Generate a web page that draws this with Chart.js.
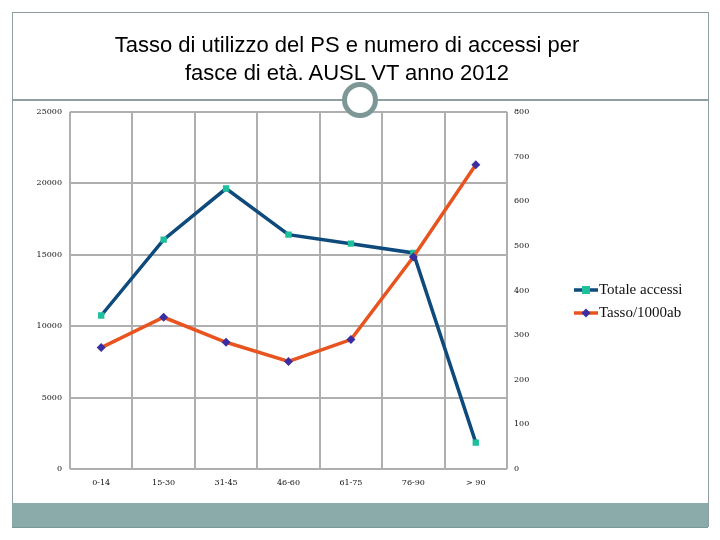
<!DOCTYPE html>
<html>
<head>
<meta charset="utf-8">
<script src="https://cdn.jsdelivr.net/npm/chart.js@4/dist/chart.umd.min.js"></script>
<style>
  body { margin: 0; background: #fff; }
  #slide { position: relative; width: 720px; height: 540px; overflow: hidden; }
  #chart { position: absolute; left: 0; top: 0; }
  .frame { position: absolute; left: 12px; top: 12px; width: 695px; height: 514px; border: 1px solid #8f9f9f; border-bottom: none; }
  .rule { position: absolute; left: 12px; top: 99px; width: 696px; height: 2px; background: #8f9f9f; }
  .ring { position: absolute; left: 342px; top: 82px; width: 26px; height: 26px; border: 5px solid #7d9797; border-radius: 50%; background: #fff; }
  .bar { position: absolute; left: 12px; top: 503px; width: 696px; height: 24px; background: #8aabaa; border-bottom: 1px solid #7a9696; }
  .title { position: absolute; left: 0; top: 31px; width: 694px; text-align: center; font: 22px "Liberation Sans", Arial, sans-serif; line-height: 28px; color: #000; }
  .legend { position: absolute; left: 574px; top: 279px; font: 15px "Liberation Serif", serif; color: #111; }
  .legend div { height: 23px; line-height: 20px; white-space: nowrap; }
  .legend canvas { vertical-align: middle; margin-right: 1px; position: relative; top: -1px; }
</style>
</head>
<body>
<div id="slide">
  <canvas id="chart" width="720" height="540"></canvas>
  <div class="frame"></div>
  <div class="title">Tasso di utilizzo del PS e numero di accessi per<br>fasce di età. AUSL VT anno 2012</div>
  <div class="rule"></div>
  <div class="ring"></div>
  <div class="legend" id="legend"></div>
  <div class="bar"></div>
</div>
<script>
var fasce = ['0-14', '15-30', '31-45', '46-60', '61-75', '76-90', '> 90'];
var totaleAccessi = [10750, 16060, 19640, 16410, 15780, 15130, 1850];
var tasso = [272, 340, 284, 241, 290, 475, 682];
var accessiTicks = { min: 0, max: 25000, step: 5000 };
var tassoTicks = { min: 0, max: 800, step: 100 };

var tickFont = { family: 'DejaVu Serif', size: 8 };

var series = [
  { label: 'Totale accessi', data: totaleAccessi, axis: 'yAcc', line: '#0e4a7b', mark: '#1ebf9b', style: 'rect', order: 2 },
  { label: 'Tasso/1000ab', data: tasso, axis: 'yTasso', line: '#e8541f', mark: '#3a2ea2', style: 'rectRot', order: 1 }
];

function fixWidth(w) {
  return function(scale) { scale.width = w; };
}

// plain numbers, no thousand separators
function plain(value) {
  return String(value);
}

var ctx = document.getElementById('chart').getContext('2d');
var chart = new Chart(ctx, {
  type: 'line',
  data: {
    labels: fasce,
    datasets: series.map(function(s) {
      return {
        label: s.label,
        data: s.data,
        yAxisID: s.axis,
        order: s.order,
        borderColor: s.line,
        borderWidth: 3.5,
        tension: 0,
        pointStyle: s.style,
        pointRadius: 4.5,
        pointBorderWidth: 0,
        pointBackgroundColor: s.mark,
        pointBorderColor: s.mark
      };
    })
  },
  options: {
    responsive: false,
    animation: false,
    layout: { padding: { top: 112, left: 0, right: 0, bottom: 0 } },
    plugins: { legend: { display: false }, tooltip: { enabled: false } },
    scales: {
      x: {
        offset: true,
        grid: { offset: true, color: '#afafaf', lineWidth: 2, drawTicks: false },
        border: { display: false },
        ticks: { color: '#111', font: tickFont, padding: 9, maxRotation: 0 },
        afterFit: function(scale) { scale.height = 71; }
      },
      yAcc: {
        position: 'left',
        min: accessiTicks.min,
        max: accessiTicks.max,
        grid: { color: '#afafaf', lineWidth: 2, drawTicks: false },
        border: { display: false },
        ticks: { stepSize: accessiTicks.step, color: '#111', font: tickFont, padding: 8, callback: plain },
        afterFit: fixWidth(70)
      },
      yTasso: {
        position: 'right',
        min: tassoTicks.min,
        max: tassoTicks.max,
        grid: { display: false, drawTicks: false },
        border: { display: false },
        ticks: { stepSize: tassoTicks.step, color: '#111', font: tickFont, padding: 7, callback: plain },
        afterFit: fixWidth(213)
      }
    }
  }
});

// legend: line with marker, like the office chart
var legend = document.getElementById('legend');
series.forEach(function(s) {
  var row = document.createElement('div'),
    icon = document.createElement('canvas'),
    g;
  icon.width = 24;
  icon.height = 10;
  g = icon.getContext('2d');
  g.strokeStyle = s.line;
  g.lineWidth = 3.5;
  g.beginPath();
  g.moveTo(0, 5);
  g.lineTo(24, 5);
  g.stroke();
  g.fillStyle = s.mark;
  if (s.style === 'rect') {
    g.fillRect(8, 1, 8, 8);
  } else {
    g.beginPath();
    g.moveTo(12, 0.5);
    g.lineTo(16.5, 5);
    g.lineTo(12, 9.5);
    g.lineTo(7.5, 5);
    g.closePath();
    g.fill();
  }
  row.appendChild(icon);
  row.appendChild(document.createTextNode(s.label));
  legend.appendChild(row);
});
</script>
</body>
</html>
